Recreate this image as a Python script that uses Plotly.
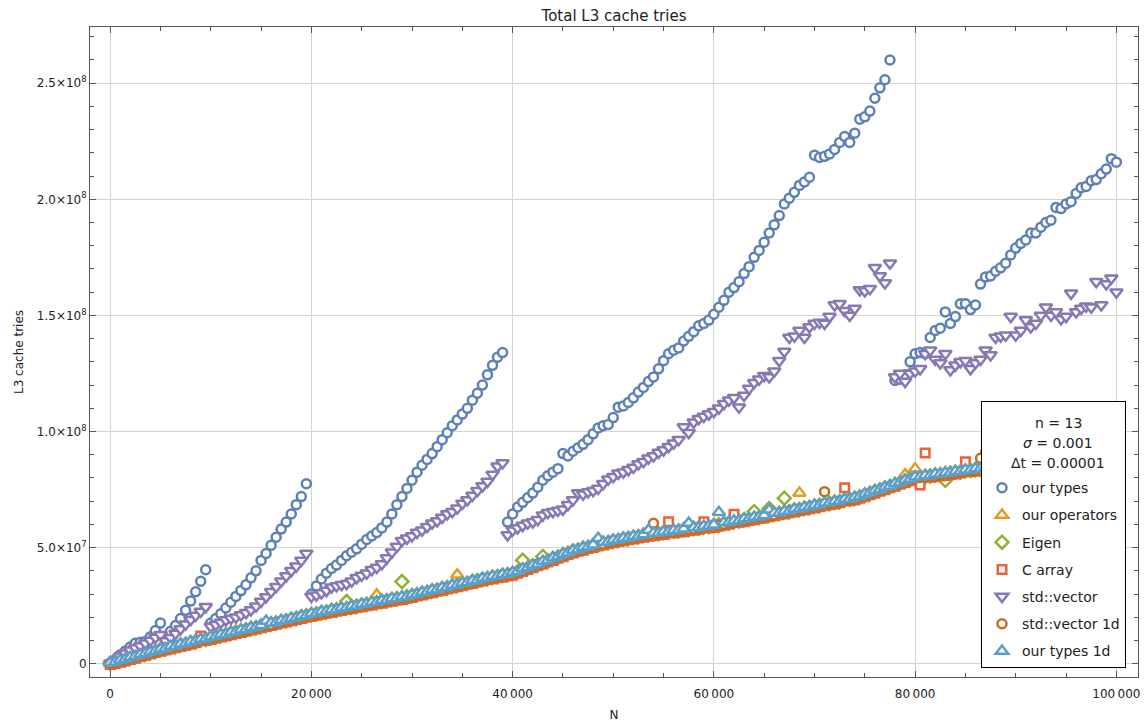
import plotly.graph_objects as go

# N grid (problem size)
N = list(range(0, 100001, 500))

# values in millions of L3 cache tries, rows of 10 (5000 N per row)
our_types = [
    0.3, 1.8, 3.8, 5.5, 7.2, 8.8, 9.3, 9.6, 11.6, 14.3,
    17.5, 11.7, 14.0, 16.5, 19.5, 23.0, 27.0, 31.0, 35.5, 40.5,
    17.5, 19.5, 21.5, 24.0, 26.5, 29.0, 31.5, 34.0, 37.0, 40.0,
    44.5, 47.5, 51.0, 54.5, 58.0, 61.0, 64.5, 68.5, 72.0, 77.5,
    30.0, 33.5, 36.5, 39.0, 41.0, 42.5, 44.5, 46.5, 48.0, 49.5,
    51.5, 53.5, 55.0, 56.5, 58.5, 61.0, 64.5, 68.5, 72.0, 75.5,
    79.0, 82.5, 85.5, 88.0, 90.5, 93.5, 96.5, 99.5, 102.5, 105.0,
    107.5, 110.0, 113.5, 116.5, 120.0, 124.5, 128.5, 132.0, 134.0, 61.0,
    64.5, 67.5, 69.5, 71.5, 73.5, 76.0, 79.0, 81.0, 82.5, 84.0,
    90.5, 89.5, 91.5, 93.0, 94.5, 96.5, 99.0, 101.5, 102.5, 103.0,
    106.0, 110.5, 111.0, 112.5, 114.5, 117.0, 119.0, 121.5, 123.5, 127.0,
    130.5, 133.5, 135.0, 136.0, 139.0, 141.0, 143.0, 145.5, 146.5, 148.0,
    150.5, 153.5, 156.5, 160.0, 162.0, 164.5, 168.0, 171.0, 175.0, 178.0,
    181.5, 185.5, 189.0, 193.0, 198.0, 200.5, 203.0, 206.0, 207.5, 209.5,
    219.0, 218.0, 218.5, 219.5, 221.5, 224.5, 227.0, 224.5, 228.5, 234.5,
    235.5, 238.0, 243.5, 248.0, 251.5, 260.0, 122.0, 122.5, 124.5, 130.0,
    133.5, 134.0, 133.5, 140.5, 143.5, 144.5, 151.5, 146.5, 149.5, 155.0,
    155.0, 152.5, 154.5, 163.5, 166.5, 167.0, 169.0, 170.5, 172.5, 176.0,
    179.0, 181.0, 182.5, 185.5, 185.5, 188.0, 190.0, 191.0, 196.5, 196.0,
    198.0, 199.0, 202.5, 205.0, 205.5, 208.0, 208.5, 211.0, 213.0, 217.5,
    216.0,
]

our_operators = [
    0.2, 0.9, 1.5, 2.0, 2.9, 3.3, 3.8, 4.7, 5.1, 5.6,
    6.5, 6.8, 7.4, 7.7, 8.5, 8.8, 9.3, 10.1, 10.4, 11.0,
    11.5, 11.9, 12.6, 12.9, 13.4, 14.1, 14.4, 14.9, 15.6, 15.9,
    16.5, 17.0, 17.3, 18.0, 18.5, 18.8, 19.5, 20.0, 20.3, 21.1,
    21.4, 21.8, 22.5, 22.7, 23.1, 23.7, 23.9, 24.4, 24.7, 25.3,
    25.5, 26.0, 26.3, 29.7, 27.1, 27.6, 27.9, 28.5, 28.7, 29.2,
    29.6, 30.1, 30.7, 31.1, 31.7, 32.1, 32.7, 33.1, 33.7, 38.3,
    34.7, 35.1, 35.7, 36.1, 36.7, 37.1, 37.6, 37.9, 38.4, 38.7,
    39.2, 39.9, 40.8, 41.5, 42.4, 43.1, 44.0, 44.7, 45.6, 46.3,
    47.2, 47.9, 48.8, 49.3, 50.0, 50.5, 51.2, 51.6, 52.2, 52.6,
    53.2, 53.5, 54.0, 54.3, 54.8, 55.1, 55.6, 55.8, 56.2, 56.4,
    56.8, 57.0, 57.4, 57.6, 58.0, 58.2, 58.6, 58.8, 59.2, 59.4,
    59.8, 60.1, 60.7, 61.0, 61.5, 61.8, 62.3, 62.6, 63.1, 63.4,
    63.9, 64.2, 64.8, 65.1, 65.6, 65.9, 66.5, 73.5, 67.3, 67.7,
    68.2, 68.5, 69.1, 69.4, 69.9, 70.2, 70.8, 71.1, 71.6, 72.2,
    73.0, 73.7, 74.5, 75.2, 76.0, 76.7, 77.5, 78.2, 81.5, 79.7,
    84.0, 80.6, 81.0, 81.2, 81.6, 81.8, 82.2, 82.4, 82.8, 83.0,
    83.4, 83.6, 84.0, 84.2, 84.6, 84.8, 85.2, 85.4, 85.8, 86.0,
    86.4, 86.6, 87.0, 87.2, 87.6, 87.8, 88.2, 88.4, 88.8, 89.0,
    89.4, 89.6, 90.0, 90.2, 90.6, 90.8, 91.2, 91.4, 91.8, 92.0,
    92.4,
]

eigen = [
    0.1, 0.5, 1.3, 1.7, 2.5, 2.9, 3.7, 4.1, 4.9, 5.3,
    6.1, 6.4, 7.1, 7.4, 8.1, 8.4, 9.1, 9.5, 10.2, 10.5,
    11.2, 11.5, 12.2, 12.5, 13.2, 13.5, 14.2, 14.5, 15.2, 15.5,
    16.2, 16.5, 17.2, 17.5, 18.2, 18.5, 19.2, 19.5, 20.2, 20.5,
    21.2, 21.4, 22.1, 22.3, 22.9, 23.1, 23.7, 26.8, 24.5, 24.7,
    25.3, 25.5, 26.1, 26.3, 26.9, 27.1, 27.7, 27.9, 35.4, 28.7,
    29.3, 29.7, 30.4, 30.7, 31.4, 31.7, 32.4, 32.7, 33.4, 33.7,
    34.4, 34.7, 35.4, 35.7, 36.4, 36.7, 37.3, 37.5, 38.1, 38.3,
    38.9, 39.5, 44.6, 41.1, 42.1, 42.7, 46.2, 44.3, 45.3, 45.9,
    46.9, 47.5, 48.5, 48.9, 49.7, 50.1, 50.9, 51.2, 51.9, 52.2,
    52.9, 53.1, 53.7, 53.9, 54.5, 54.7, 55.3, 55.4, 55.9, 56.0,
    56.5, 56.6, 57.1, 57.2, 57.7, 57.8, 58.3, 58.4, 58.9, 59.0,
    59.5, 59.7, 60.4, 60.6, 61.2, 61.4, 62.0, 62.2, 65.5, 63.0,
    63.6, 66.8, 64.5, 64.7, 71.3, 65.5, 66.2, 66.4, 67.0, 67.3,
    67.9, 68.1, 68.8, 69.0, 69.6, 69.8, 70.5, 70.7, 71.3, 71.8,
    72.7, 73.3, 74.2, 74.8, 75.7, 76.3, 77.2, 77.8, 78.7, 79.3,
    80.1, 80.2, 80.7, 80.8, 81.3, 81.4, 79.0, 82.0, 82.5, 82.6,
    83.1, 83.2, 83.7, 83.8, 84.3, 84.4, 84.9, 85.0, 85.5, 85.6,
    86.1, 86.2, 86.7, 86.8, 87.3, 87.4, 87.9, 88.0, 88.5, 88.6,
    89.1, 89.2, 89.7, 89.8, 90.3, 90.4, 90.9, 91.0, 91.5, 91.6,
    92.1,
]

c_array = [
    -0.3, 0.1, 0.7, 1.2, 1.8, 2.4, 3.0, 3.6, 4.2, 4.8,
    5.4, 5.9, 6.4, 6.9, 7.4, 7.9, 8.4, 9.0, 12.0, 10.0,
    10.5, 11.0, 11.5, 12.0, 12.5, 13.0, 13.5, 14.0, 14.5, 15.0,
    15.5, 16.0, 16.5, 17.0, 17.5, 18.0, 18.5, 19.0, 19.5, 20.0,
    20.4, 20.9, 21.3, 21.8, 22.1, 22.6, 22.9, 23.4, 23.7, 24.2,
    24.5, 25.0, 25.3, 25.8, 26.1, 26.6, 26.9, 27.4, 27.7, 28.2,
    28.5, 29.2, 29.6, 30.2, 30.6, 31.2, 31.6, 32.2, 32.6, 33.2,
    33.6, 34.2, 34.6, 35.2, 35.6, 36.2, 36.5, 37.0, 37.3, 37.8,
    38.1, 39.0, 39.7, 40.6, 41.3, 42.2, 42.9, 43.8, 44.5, 45.4,
    46.1, 47.0, 47.7, 48.4, 48.9, 49.6, 50.1, 50.7, 51.1, 51.7,
    52.1, 52.6, 52.9, 53.4, 53.7, 54.2, 54.5, 54.9, 55.1, 55.5,
    55.7, 61.2, 56.3, 56.7, 56.9, 57.3, 57.5, 57.9, 61.2, 58.5,
    58.7, 59.2, 59.6, 60.1, 64.4, 60.9, 61.2, 61.7, 62.0, 62.5,
    62.8, 63.3, 63.7, 64.2, 64.5, 65.0, 65.4, 65.9, 66.2, 66.8,
    67.1, 67.6, 68.0, 68.5, 68.8, 69.3, 75.8, 70.2, 70.5, 71.3,
    71.9, 72.8, 73.4, 74.3, 74.9, 75.8, 76.4, 77.3, 77.9, 78.8,
    79.3, 77.0, 90.8, 80.3, 80.5, 80.9, 81.1, 81.5, 81.7, 82.1,
    87.0, 82.7, 82.9, 83.3, 90.0, 83.9, 84.1, 84.5, 84.7, 85.1,
    85.3, 85.7, 85.9, 86.3, 86.5, 86.9, 87.1, 87.5, 87.7, 88.1,
    88.3, 88.7, 88.9, 89.3, 89.5, 89.9, 90.1, 90.5, 90.7, 91.1,
    91.3,
]

std_vector = [
    0.0, 1.5, 3.2, 4.5, 5.8, 6.8, 7.6, 8.8, 10.0, 11.3,
    12.5, 9.8, 11.2, 13.0, 15.0, 17.0, 19.0, 20.8, 22.5, 24.5,
    16.0, 16.8, 17.8, 18.8, 19.5, 20.0, 21.0, 22.0, 23.2, 24.8,
    26.8, 28.8, 31.0, 33.2, 35.5, 37.8, 40.0, 42.0, 44.5, 47.5,
    29.0, 29.5, 30.5, 31.5, 33.0, 33.5, 34.0, 34.5, 35.5, 37.0,
    38.0, 39.0, 40.5, 41.5, 43.0, 45.5, 48.0, 50.5, 53.0, 54.0,
    55.0, 56.5, 57.5, 59.0, 60.5, 61.5, 63.0, 64.5, 65.5, 67.0,
    69.0, 70.5, 72.5, 74.5, 76.5, 78.5, 81.5, 85.0, 86.5, 55.5,
    57.5, 58.5, 59.5, 60.5, 61.0, 62.0, 64.0, 65.0, 65.5, 66.0,
    66.5, 68.5, 70.5, 73.5, 73.0, 74.0, 74.5, 75.5, 77.5, 79.5,
    80.5, 82.0, 82.5, 83.5, 84.5, 86.0, 87.0, 88.5, 89.5, 91.0,
    92.0, 93.5, 95.0, 96.5, 102.0, 99.5, 104.0, 105.5, 106.5, 107.5,
    108.5, 110.0, 112.0, 113.5, 114.5, 110.5, 115.5, 118.5, 121.0, 122.5,
    124.0, 123.5, 126.0, 130.5, 134.5, 140.5, 141.0, 143.5, 140.5, 145.0,
    146.5, 147.0, 146.5, 149.5, 154.5, 155.0, 152.0, 150.0, 153.0, 161.0,
    160.5, 161.5, 170.5, 167.0, 164.0, 172.5, 123.5, 125.0, 121.5, 125.0,
    126.0, 127.0, 133.5, 135.0, 131.0, 129.5, 133.5, 126.5, 128.5, 130.0,
    130.5, 127.0, 129.5, 131.0, 135.0, 133.0, 140.5, 141.0, 141.5, 149.5,
    141.5, 143.5, 148.0, 145.0, 146.5, 150.0, 153.5, 150.0, 151.5, 148.5,
    149.5, 159.5, 151.5, 153.0, 154.0, 153.5, 164.5, 154.5, 163.5, 166.0,
    160.0,
]

std_vector_1d = [
    0.0, 0.4, 1.0, 1.7, 2.2, 2.9, 3.4, 4.1, 4.6, 5.3,
    5.8, 6.4, 6.8, 7.4, 7.8, 8.4, 8.8, 9.5, 9.9, 10.5,
    10.9, 11.5, 11.9, 12.5, 12.9, 13.5, 13.9, 14.5, 14.9, 15.5,
    15.9, 16.5, 16.9, 17.5, 17.9, 18.5, 18.9, 19.5, 19.9, 20.5,
    20.9, 21.4, 21.8, 22.3, 22.6, 23.1, 23.4, 23.9, 24.2, 24.7,
    25.0, 25.5, 25.8, 26.3, 26.6, 27.1, 27.4, 27.9, 28.2, 28.7,
    29.0, 29.7, 30.1, 30.7, 31.1, 31.7, 32.1, 32.7, 33.1, 33.7,
    34.1, 34.7, 35.1, 35.7, 36.1, 36.7, 37.0, 37.5, 37.8, 38.3,
    38.6, 39.5, 40.2, 41.1, 41.8, 42.7, 43.4, 44.3, 45.0, 45.9,
    46.6, 47.5, 48.2, 48.9, 49.4, 50.1, 50.6, 51.2, 51.6, 52.2,
    52.6, 53.1, 53.4, 53.9, 54.2, 54.7, 55.0, 55.4, 60.5, 56.0,
    56.2, 56.6, 56.8, 57.2, 57.4, 57.8, 58.0, 58.4, 58.6, 59.0,
    59.2, 59.7, 60.1, 60.6, 60.9, 61.4, 61.7, 62.2, 62.5, 63.0,
    63.3, 63.8, 64.2, 64.7, 65.0, 65.5, 65.9, 66.4, 66.7, 67.3,
    67.6, 68.1, 74.1, 69.0, 69.3, 69.8, 70.2, 70.7, 71.0, 71.8,
    72.4, 73.3, 73.9, 74.8, 75.4, 76.3, 76.9, 77.8, 78.4, 79.3,
    79.8, 80.2, 80.4, 80.8, 81.0, 81.4, 81.6, 82.0, 82.2, 82.6,
    82.8, 83.2, 83.4, 88.5, 84.0, 84.4, 84.6, 85.0, 85.2, 85.6,
    85.8, 86.2, 86.4, 86.8, 87.0, 87.4, 87.6, 88.0, 88.2, 88.6,
    88.8, 89.2, 89.4, 89.8, 90.0, 90.4, 90.6, 91.0, 91.2, 91.6,
    91.8,
]

our_types_1d = [
    0.4, 0.8, 1.6, 2.0, 2.8, 3.2, 4.0, 4.4, 5.2, 5.6,
    6.4, 6.7, 7.5, 7.7, 8.5, 8.7, 9.5, 9.8, 10.6, 10.8,
    11.6, 11.8, 12.6, 12.8, 13.6, 13.8, 14.6, 14.8, 15.6, 15.8,
    16.6, 18.4, 17.6, 17.8, 18.6, 18.8, 19.6, 19.8, 20.6, 20.8,
    21.6, 21.7, 22.5, 22.6, 23.3, 23.4, 24.1, 24.2, 24.9, 25.0,
    25.7, 25.8, 26.5, 26.6, 27.3, 27.4, 28.1, 28.2, 28.9, 29.0,
    29.7, 30.0, 30.8, 31.0, 31.8, 32.0, 32.8, 33.0, 33.8, 34.0,
    34.8, 35.0, 35.8, 36.0, 36.8, 37.0, 37.7, 37.8, 38.5, 38.6,
    39.3, 39.8, 40.9, 41.4, 42.5, 43.0, 44.1, 44.6, 45.7, 46.2,
    47.3, 47.8, 48.9, 49.2, 50.1, 50.4, 51.3, 54.0, 52.3, 52.5,
    53.3, 53.4, 54.1, 54.2, 54.9, 55.0, 55.7, 57.6, 56.3, 56.3,
    56.9, 56.9, 57.5, 57.5, 58.1, 60.6, 58.7, 58.7, 59.3, 59.3,
    59.9, 65.2, 60.8, 60.9, 61.6, 61.7, 62.4, 62.5, 63.2, 63.3,
    64.0, 66.3, 64.9, 65.0, 65.7, 65.8, 66.6, 66.7, 67.4, 67.6,
    68.3, 68.4, 69.2, 69.3, 70.0, 70.1, 70.9, 71.0, 71.7, 72.1,
    73.1, 73.6, 74.6, 75.1, 76.1, 76.6, 77.6, 78.1, 79.1, 79.6,
    80.5, 80.5, 81.1, 81.1, 81.7, 81.7, 82.3, 82.3, 82.9, 82.9,
    83.5, 83.5, 84.1, 84.1, 84.7, 84.7, 85.3, 85.3, 85.9, 85.9,
    86.5, 86.5, 87.1, 87.1, 87.7, 87.7, 88.3, 88.3, 88.9, 88.9,
    89.5, 89.5, 90.1, 90.1, 90.7, 90.7, 91.3, 91.3, 91.9, 91.9,
    92.5,
]

series_names = ["our types", "our operators", "Eigen", "C array",
                "std::vector", "std::vector 1d", "our types 1d"]
series_values = [our_types, our_operators, eigen, c_array,
                 std_vector, std_vector_1d, our_types_1d]
for v in series_values:
    assert len(v) == len(N), len(v)

legend_header = ["n = 13", "<i>σ</i> = 0.001", "Δt = 0.00001"]

y_tick_vals = [0, 50, 100, 150, 200, 250]
y_tick_text = ["0", "5.0×10<sup>7</sup>", "1.0×10<sup>8</sup>",
               "1.5×10<sup>8</sup>", "2.0×10<sup>8</sup>", "2.5×10<sup>8</sup>"]
x_tick_vals = [0, 20000, 40000, 60000, 80000, 100000]
x_tick_text = ["0", "20\u2009000", "40\u2009000", "60\u2009000",
               "80\u2009000", "100\u2009000"]

colors = ["#5E81B5", "#E19C24", "#8FB032", "#EB6235",
          "#8778B3", "#C56E1A", "#5D9EC7"]
symbols = ["circle", "triangle-up", "diamond", "square",
           "triangle-down", "circle", "triangle-up"]
sizes = [9, 11, 10, 8.5, 11, 9, 11]

fig = go.Figure()
for i, (name, vals) in enumerate(zip(series_names, series_values)):
    fig.add_trace(go.Scatter(
        x=N, y=vals, mode="markers", name=name, legendgroup=name,
        marker=dict(symbol=symbols[i], size=sizes[i], color="white",
                    line=dict(color=colors[i], width=2.5)),
    ))

# plot-area geometry (pixels) used to place legend header texts
L, R, T, B = 90.0, 1138.0, 27.0, 677.0
def px_x(px):
    return (px - L) / (R - L)
def px_y(py):
    return (B - py) / (B - T)

font_family = "DejaVu Sans, Verdana, sans-serif"
fig.update_layout(
    width=1148, height=722,
    margin=dict(l=90, r=10, t=27, b=45, autoexpand=False),
    paper_bgcolor="white", plot_bgcolor="white",
    font=dict(family=font_family, size=12, color="#222222"),
    title=dict(text="Total L3 cache tries", x=0.5, xref="paper",
               y=1 - 16 / 722, yref="container", yanchor="middle",
               font=dict(size=15, color="#222222")),
    legend=dict(x=px_x(981), y=px_y(401), xanchor="left", yanchor="top",
                bgcolor="white", bordercolor="black", borderwidth=1,
                font=dict(size=14), traceorder="grouped", tracegroupgap=6,
                itemwidth=30,
                title=dict(text="&nbsp;<br>&nbsp;<br>&nbsp;",
                           side="top", font=dict(size=18))),
    showlegend=True,
)
for k, txt in enumerate(legend_header):
    fig.add_annotation(text=txt, x=px_x(1058), y=px_y(423 + 20 * k),
                       xref="paper", yref="paper", showarrow=False,
                       xanchor="center", yanchor="middle",
                       font=dict(size=14, color="#222222"))

axis_common = dict(showline=True, linecolor="#555555", linewidth=1,
                   mirror="ticks", ticks="inside", tickcolor="#555555",
                   ticklen=6, tickwidth=1, showgrid=True,
                   gridcolor="#d4d4d4", gridwidth=1, zeroline=False,
                   automargin=False)
fig.update_xaxes(range=[-2000, 102150], tickvals=x_tick_vals, ticktext=x_tick_text,
                 ticklabelstandoff=6,
                 minor=dict(dtick=5000, tick0=0, ticks="inside", ticklen=4,
                            tickcolor="#555555", showgrid=False),
                 title=dict(text="N", standoff=14, font=dict(size=12)),
                 **axis_common)
fig.update_yaxes(range=[-5.7, 274.2], tickvals=y_tick_vals, ticktext=y_tick_text,
                 minor=dict(dtick=10, tick0=0, ticks="inside", ticklen=4,
                            tickcolor="#555555", showgrid=False),
                 title=dict(text="L3 cache tries", standoff=10, font=dict(size=12)),
                 **axis_common)

fig.write_html("out.html")
